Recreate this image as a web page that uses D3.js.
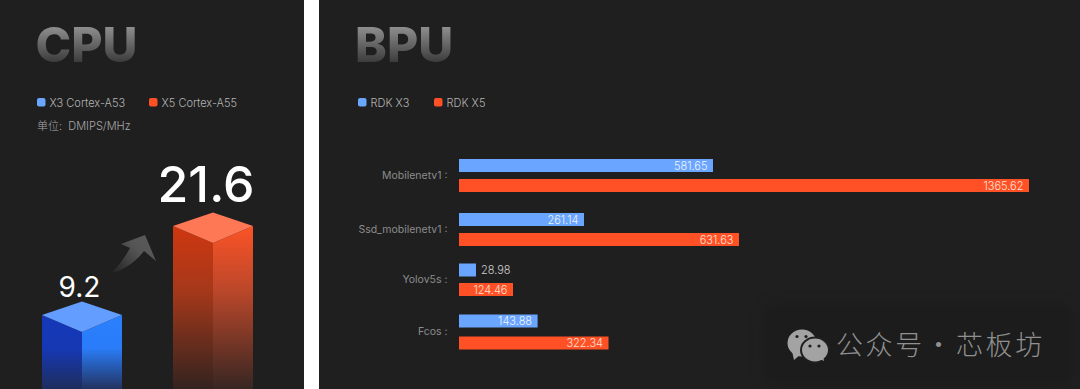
<!DOCTYPE html>
<html>
<head>
<meta charset="utf-8">
<script src="https://cdn.jsdelivr.net/npm/d3@7"></script>
<style>
html,body{margin:0;padding:0;background:#fff;overflow:hidden}
svg{display:block}
text{font-family:Inter,"Noto Sans CJK SC",sans-serif}
</style>
</head>
<body>
<svg id="chart" width="1080" height="389"></svg>
<script>
// CPU panel
const cpuNames = ["X3 Cortex-A53", "X5 Cortex-A55"];
const cpuValues = [9.2, 21.6];
const cpuLabels = ["9.2", "21.6"];
const cpuUnit = "单位:  DMIPS/MHz";

// BPU panel
const bpuCategories = ["Mobilenetv1 :", "Ssd_mobilenetv1 :", "Yolov5s :", "Fcos :"];
const bpuSeries = ["RDK X3", "RDK X5"];
// Printed labels, exactly as the picture shows them
const x3Labels = ["581.65", "261.14", "28.98", "143.88"];
const x5Labels = ["1365.62", "631.63", "124.46", "322.34"];
// Bar lengths; the source bars are not strictly
// proportional to their printed labels, so these are kept separately.
const x3Bars = [608.5, 299.5, 40.7, 188.3];
const x5Bars = [1365.62, 670.8, 129.4, 358.2];

const BLUE = "#6aa5ff", ORANGE = "#ff5125", PANEL = "#1f1f1f";
const svg = d3.select("#chart");
const defs = svg.append("defs");

function vGrad(id, stops, y1, y2) {
  const g = defs.append("linearGradient").attr("id", id)
    .attr("gradientUnits", "userSpaceOnUse")
    .attr("x1", 0).attr("x2", 0).attr("y1", y1).attr("y2", y2);
  stops.forEach(s => g.append("stop").attr("offset", s[0]).attr("stop-color", s[1]));
}

// Panels
svg.append("rect").attr("x", -12).attr("y", -12).attr("width", 316).attr("height", 413).attr("rx", 7).attr("fill", PANEL);
svg.append("rect").attr("x", 319).attr("y", -12).attr("width", 780).attr("height", 413).attr("rx", 7).attr("fill", PANEL);

// Watermark backdrop
svg.append("rect").attr("x", 764).attr("y", 304).attr("width", 308).attr("height", 80).attr("rx", 14)
  .attr("fill", "#1c1c1c").style("filter", "blur(6px)");

// Titles
vGrad("titleGrad", [[0, "#8e8e8e"], [1, "#3c3c3c"]], 27, 62);
const titles = [{t: "CPU", x: 35.5}, {t: "BPU", x: 355}];
svg.selectAll("text.title").data(titles).join("text").attr("class", "title")
  .attr("x", d => d.x).attr("y", 62).attr("font-size", 48).attr("font-weight", 800)
  .attr("fill", "url(#titleGrad)").style("filter", "blur(0.5px)").text(d => d.t);

// Legends
function legend(items) {
  items.forEach(d => {
    svg.append("rect").attr("x", d.x).attr("y", 98).attr("width", 8.5).attr("height", 8.5).attr("rx", 2).attr("fill", d.c);
    svg.append("text").attr("x", d.x + 12.5).attr("y", 107).attr("font-size", 11)
      .attr("font-weight", 300).attr("fill", "#b4b4b4").text(d.t);
  });
}
legend([
  {x: 37, c: BLUE, t: cpuNames[0]}, {x: 149, c: ORANGE, t: cpuNames[1]},
  {x: 358, c: BLUE, t: bpuSeries[0]}, {x: 434, c: ORANGE, t: bpuSeries[1]}
]);
svg.append("text").attr("x", 37).attr("y", 130).attr("font-size", 11).attr("font-weight", 300).attr("fill", "#a8a8a8")
  .attr("xml:space", "preserve").text(cpuUnit);

// CPU 3D columns
const yCpu = d3.scaleLinear().domain([9.2, 21.6]).range([315, 226]);
const xCpu = d3.scaleOrdinal().domain(cpuNames).range([42, 173]);
const colW = 80, rise = 13.5, drop = 17, bottom = 389;
const cpuStyles = [
  {top: "#639dff", l: [[0, "#1538b8"], [0.45, "#1638b4"], [1, "#1e2d5c"]], r: [[0, "#2a80ff"], [0.45, "#2a7cf8"], [1, "#223360"]], start: 315},
  {top: "#ff7855", l: [[0, "#cf3710"], [0.4, "#a5381a"], [1, "#33231f"]], r: [[0, "#fb5326"], [0.4, "#ba472a"], [1, "#372622"]], start: 226}
];
cpuValues.forEach((v, i) => {
  const s = cpuStyles[i], x0 = xCpu(cpuNames[i]), w = colW, y = yCpu(v), cx = x0 + w / 2;
  vGrad("cpuL" + i, s.l, s.start, bottom);
  vGrad("cpuR" + i, s.r, s.start, bottom);
  const line = d3.line();
  svg.append("path").attr("d", line([[x0, y], [cx, y + drop], [cx, bottom], [x0, bottom]]) + "Z").attr("fill", `url(#cpuL${i})`);
  svg.append("path").attr("d", line([[cx, y + drop], [x0 + w, y], [x0 + w, bottom], [cx, bottom]]) + "Z").attr("fill", `url(#cpuR${i})`);
  svg.append("path").attr("d", line([[x0, y], [cx, y - rise], [x0 + w, y], [cx, y + drop]]) + "Z").attr("fill", s.top);
});
const labelSize = [28, 50];
svg.selectAll("text.cpuval").data(cpuLabels).join("text").attr("class", "cpuval")
  .attr("x", (d, i) => xCpu(cpuNames[i]) + colW / 2 - (i ? 7 : 2.5))
  .attr("y", (d, i) => yCpu(cpuValues[i]) - (i ? 24.5 : 18.5))
  .attr("text-anchor", "middle").attr("font-size", (d, i) => labelSize[i])
  .attr("font-weight", (d, i) => i ? 500 : 400).attr("fill", "#fff").text(d => d);

// Growth arrow
const ag = defs.append("linearGradient").attr("id", "arrowGrad").attr("gradientUnits", "userSpaceOnUse")
  .attr("x1", 110).attr("y1", 273).attr("x2", 145).attr("y2", 240);
ag.append("stop").attr("offset", 0).attr("stop-color", "#5a5a5a").attr("stop-opacity", 0);
ag.append("stop").attr("offset", 0.75).attr("stop-color", "#555").attr("stop-opacity", 1);
ag.append("stop").attr("offset", 1).attr("stop-color", "#585858");
svg.append("path")
  .attr("d", "M109,274C122,271 135,263 144,251L156,261L145,235L121,244L130,248C125,257 118,268 109,274Z")
  .attr("fill", "url(#arrowGrad)");

// BPU bars
const xBpu = d3.scaleLinear().domain([0, 1365.62]).range([459, 1029]);
const rowX3 = d3.scaleOrdinal().domain(bpuCategories).range([159, 213, 263.5, 314.5]);
const rowX5 = d3.scaleOrdinal().domain(bpuCategories).range([179, 233, 283, 336.5]);
const barH = 13;

function barSeries(bars, labels, row, color, inside) {
  const rows = bpuCategories.map((c, i) => ({c, v: bars[i], l: labels[i]}));
  svg.selectAll(null).data(rows).join("rect")
    .attr("x", xBpu(0)).attr("y", d => row(d.c))
    .attr("width", d => xBpu(d.v) - xBpu(0)).attr("height", barH).attr("fill", color);
  svg.selectAll(null).data(rows).join("text")
    .attr("x", d => d.v < 60 ? xBpu(d.v) + 5 : xBpu(d.v) - 5.5)
    .attr("y", d => row(d.c) + barH / 2 + 4)
    .attr("text-anchor", d => d.v < 60 ? "start" : "end")
    .attr("font-size", 11).attr("font-weight", 300)
    .attr("fill", d => d.v < 60 ? "#cccccc" : inside)
    .text(d => d.l);
}
barSeries(x3Bars, x3Labels, rowX3, BLUE, "#eef4ff");
barSeries(x5Bars, x5Labels, rowX5, ORANGE, "#ffe2da");

svg.selectAll("text.cat").data(bpuCategories).join("text").attr("class", "cat")
  .attr("x", 447.5)
  .attr("y", d => (rowX3(d) + rowX5(d) + barH) / 2 + 3)
  .attr("text-anchor", "end").attr("font-size", 10.5).attr("fill", "#8c8c8c").text(d => d);

// Watermark
const wm = svg.append("g").attr("fill", "#a3a3a3");
wm.append("ellipse").attr("cx", 802).attr("cy", 343).attr("rx", 14.5).attr("ry", 13.5);
wm.append("path").attr("d", "M792,351L794,360L801,354Z");
wm.append("ellipse").attr("cx", 815).attr("cy", 350).attr("rx", 14).attr("ry", 12.5).attr("stroke", PANEL).attr("stroke-width", 2);
wm.append("path").attr("d", "M820,359L824,361L823,356Z");
[[797, 336.5], [806, 336.5], [810, 346], [819, 346]].forEach(p =>
  wm.append("circle").attr("cx", p[0]).attr("cy", p[1]).attr("r", 1.6).attr("fill", PANEL));
const wmText = svg.append("text").attr("y", 355).attr("font-size", 27).attr("font-weight", 300)
  .attr("letter-spacing", 2.6)
  .style("font-family", '"Noto Sans CJK SC",sans-serif').attr("fill", "#909090");
wmText.append("tspan").attr("x", 836).text("公众号");
wmText.append("tspan").attr("x", 925).text("·");
wmText.append("tspan").attr("x", 956).text("芯板坊");
</script>
</body>
</html>
